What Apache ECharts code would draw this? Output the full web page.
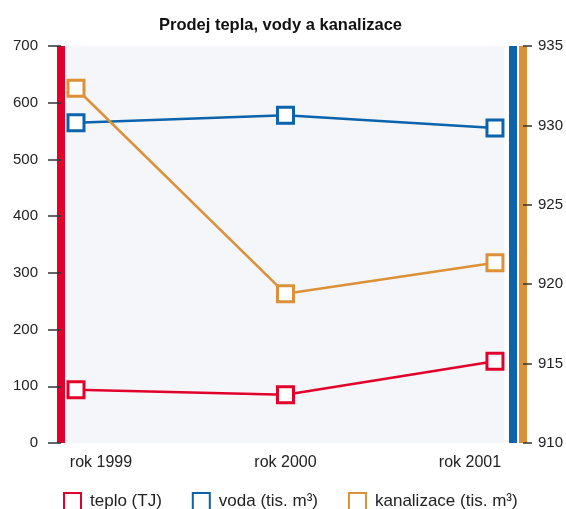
<!DOCTYPE html>
<html>
<head>
<meta charset="utf-8">
<script src="https://cdn.jsdelivr.net/npm/echarts@6/dist/echarts.min.js"></script>
<style>
  html, body { margin: 0; padding: 0; background: #fff; }
  #main { width: 566px; height: 509px; }
</style>
</head>
<body>
<div id="main"></div>
<script>
// data
var years = ['rok 1999', 'rok 2000', 'rok 2001'];
var teplo = [94, 85, 144];            // TJ, left axis
var voda = [930.16, 930.64, 929.84];  // tis. m3, right axis
var kanalizace = [932.34, 919.4, 921.35]; // tis. m3, right axis
var leftTicks = [0, 700, 100];        // min, max, step
var rightTicks = [910, 935, 5];

var RED = '#e2002b', BLUE = '#0a63ab', ORANGE = '#dc9139';
var FONT = '"Liberation Sans", Arial, sans-serif';

var chart = echarts.init(document.getElementById('main'));

function lineSeries(name, data, color, yIdx) {
    return {
        name: name,
        type: 'line',
        xAxisIndex: 0,
        yAxisIndex: yIdx,
        data: data.map(function (v, i) { return [i, v]; }),
        symbol: 'rect',
        symbolSize: 16,
        lineStyle: { color: color, width: 2.5 },
        itemStyle: { color: '#fff', borderColor: color, borderWidth: 3 },
        emphasis: { disabled: true },
        z: 5
    };
}

chart.setOption({
    animation: false,
    title: {
        text: 'Prodej tepla, vody a kanalizace',
        left: 154,
        top: 12,
        textStyle: { fontFamily: FONT, fontWeight: 900, fontSize: 16.5, color: '#111' }
    },
    legend: {
        left: 63,
        top: 492,
        padding: 0,
        itemWidth: 17,
        itemHeight: 17,
        itemGap: 30,
        icon: 'rect',
        textStyle: { fontFamily: FONT, fontSize: 17, color: '#222', padding: [0, 0, 0, 4] },
        data: ['teplo (TJ)', 'voda (tis. m³)', 'kanalizace (tis. m³)']
    },
    grid: [
        { left: 65, right: 62, top: 46, bottom: 66, show: true, backgroundColor: '#f4f6fa', borderWidth: 0 },
        { left: 101, right: 96, top: 46, bottom: 66 }
    ],
    xAxis: [
        {
            type: 'value', gridIndex: 0, min: -0.0525, max: 2.043,
            axisLine: { show: false }, axisTick: { show: false },
            axisLabel: { show: false }, splitLine: { show: false }
        },
        {
            type: 'category', gridIndex: 1, data: years, boundaryGap: false,
            axisLine: { show: false }, axisTick: { show: false }, splitLine: { show: false },
            axisLabel: { fontFamily: FONT, fontSize: 16, color: '#222', margin: 12 }
        }
    ],
    yAxis: [
        {
            type: 'value', gridIndex: 0, min: leftTicks[0], max: leftTicks[1], interval: leftTicks[2],
            position: 'left', offset: 4,
            axisLine: { show: true, onZero: false, lineStyle: { color: RED, width: 8, cap: 'butt' } },
            axisTick: { show: true, length: 13, lineStyle: { color: '#333', width: 1.5 } },
            axisLabel: { fontFamily: FONT, fontSize: 15, color: '#222', margin: 23 },
            splitLine: { show: false }
        },
        {
            type: 'value', gridIndex: 0, min: rightTicks[0], max: rightTicks[1], interval: rightTicks[2],
            position: 'right', offset: 9,
            axisLine: { show: true, onZero: false, lineStyle: { color: BLUE, width: 8, cap: 'butt' } },
            axisTick: { show: false }, axisLabel: { show: false }, splitLine: { show: false }
        },
        {
            type: 'value', gridIndex: 0, min: rightTicks[0], max: rightTicks[1], interval: rightTicks[2],
            position: 'right', offset: 19,
            axisLine: { show: true, onZero: false, lineStyle: { color: ORANGE, width: 8, cap: 'butt' } },
            axisTick: { show: true, length: 9, lineStyle: { color: '#333', width: 1.5 } },
            axisLabel: { fontFamily: FONT, fontSize: 15, color: '#222', margin: 15 },
            splitLine: { show: false }
        },
        { type: 'value', gridIndex: 1, show: false }
    ],
    series: [
        lineSeries('teplo (TJ)', teplo, RED, 0),
        lineSeries('voda (tis. m³)', voda, BLUE, 1),
        lineSeries('kanalizace (tis. m³)', kanalizace, ORANGE, 2)
    ]
});
</script>
</body>
</html>
